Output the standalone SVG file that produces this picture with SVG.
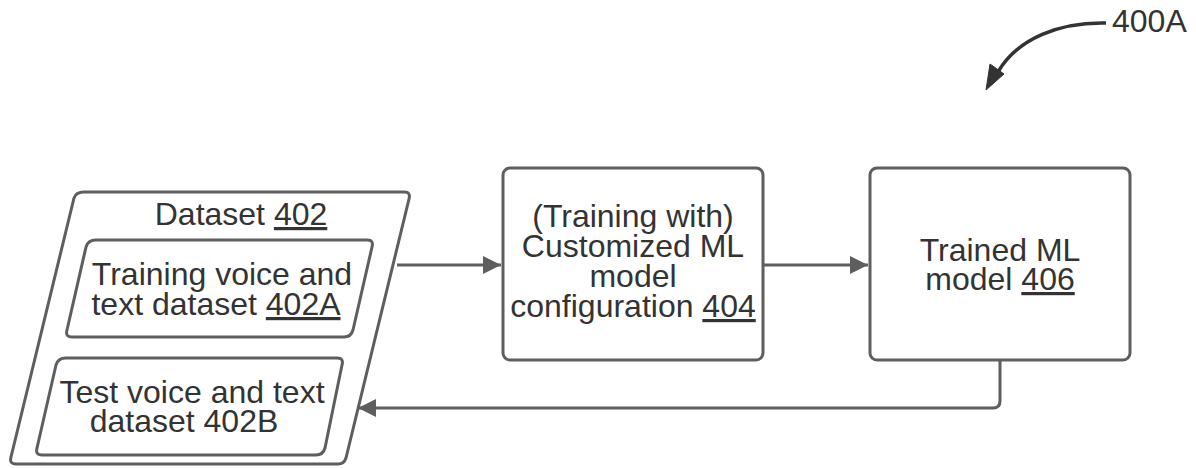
<svg xmlns="http://www.w3.org/2000/svg" width="1196" height="468" viewBox="0 0 1196 468">
  <defs>
    <style>
      .shape { fill: #ffffff; stroke: #5e5e5e; stroke-width: 3; stroke-linejoin: round; }
      .wire { fill: none; stroke: #5e5e5e; stroke-width: 3; }
      .label { font-family: "Liberation Sans", Arial, sans-serif; font-size: 32px; fill: #333333; text-anchor: middle; }
      .ref { text-decoration: underline; }
    </style>
    <marker id="head" viewBox="0 0 10 10" refX="10" refY="5" markerWidth="8" markerHeight="6" markerUnits="strokeWidth" orient="auto">
      <path d="M0,0 L10,5 L0,10 Z" fill="#5e5e5e"/>
    </marker>
  </defs>
  <rect width="1196" height="468" fill="#ffffff"/>

  <!-- Dataset 402 (parallelogram container) -->
  <g id="dataset-402">
    <path class="shape" d="M84,192 L404,192 Q411,192 409,199 L346,458 Q344,464 338,464 L16,464 Q9,464 11,457 L74,198 Q76,192 84,192 Z"/>
    <text class="label" x="241" y="225">Dataset <tspan class="ref">402</tspan></text>
  </g>

  <g id="dataset-402A">
    <path class="shape" d="M96,240 L367,240 Q374,240 372,247 L353,330 Q351,337 344,337 L72,337 Q65,337 67,330 L86,247 Q88,240 96,240 Z"/>
    <text class="label" x="222" y="285">Training voice and</text>
    <text class="label" x="216" y="315">text dataset <tspan class="ref">402A</tspan></text>
  </g>

  <g id="dataset-402B">
    <path class="shape" d="M66,358 L337,358 Q344,358 342,365 L325,448 Q323,455 316,455 L42,455 Q35,455 37,448 L56,365 Q58,358 66,358 Z"/>
    <text class="label" x="192" y="403">Test voice and text</text>
    <text class="label" x="184" y="432">dataset 402B</text>
  </g>

  <!-- Customized ML model configuration 404 -->
  <g id="config-404">
    <rect class="shape" x="503" y="168" width="260" height="192" rx="7"/>
    <text class="label" x="633" y="227">(Training with)</text>
    <text class="label" x="633" y="257">Customized ML</text>
    <text class="label" x="633" y="287">model</text>
    <text class="label" x="633" y="317">configuration <tspan class="ref">404</tspan></text>
  </g>

  <!-- Trained ML model 406 -->
  <g id="trained-406">
    <rect class="shape" x="870" y="168" width="260" height="192" rx="7"/>
    <text class="label" x="1000" y="261">Trained ML</text>
    <text class="label" x="1000" y="290">model <tspan class="ref">406</tspan></text>
  </g>

  <!-- Connectors -->
  <g id="connectors">
    <path class="wire" d="M397,265 L501,265" marker-end="url(#head)"/>
    <path class="wire" d="M763,265 L868,265" marker-end="url(#head)"/>
    <path class="wire" d="M1000,360 L1000,401 Q1000,408 993,408 L358,408" marker-end="url(#head)"/>
  </g>

  <!-- Figure reference 400A -->
  <g id="ref-400A">
    <path d="M1106,23 C1060,22 1018,38 998,72" fill="none" stroke="#333333" stroke-width="3.5"/>
    <path d="M986,90 L990,64 L1004,74 Z" fill="#333333" stroke="#333333" stroke-width="1" stroke-linejoin="round"/>
    <text class="label" x="1112" y="32" style="text-anchor:start">400A</text>
  </g>
</svg>
